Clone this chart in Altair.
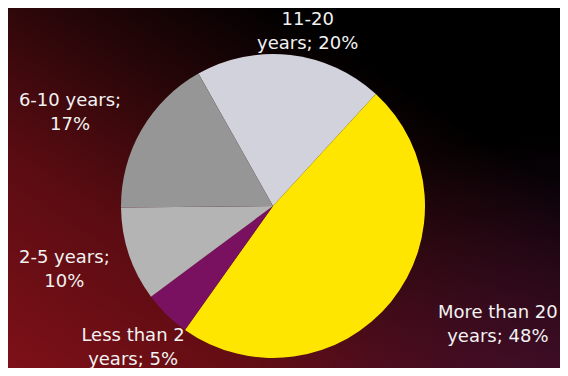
import altair as alt
import pandas as pd
import math

# ---- data ----
categories = ["11-20 years", "More than 20 years", "Less than 2 years", "2-5 years", "6-10 years"]
values = [20, 48, 5, 10, 17]
labels = ["11-20\nyears; 20%", "More than 20\nyears; 48%", "Less than 2\nyears; 5%",
          "2-5 years;\n10%", "6-10 years;\n17%"]

# ---- styles ----
colors = ["#D2D2DC", "#FFE600", "#7A1060", "#B4B4B4", "#969696"]
W, H = 552, 360
CX, CY, R = 265, 198, 152
start = math.radians(-29.4)
# per-label placement (radius, dx, dy)
label_pos = [(180, 14, -7), (252, 29, -52), (200, 0, -13), (217, -3, -17), (224, -9, 7)]

df = pd.DataFrame({"idx": list(range(len(categories))), "cat": categories,
                   "value": values, "label": labels})

theta_scale = alt.Scale(domain=[0, 100], range=[start, start + 2 * math.pi])

base = alt.Chart(df).transform_stack(
    stack="value", groupby=[], as_=["v0", "v1"], sort=[alt.SortField("idx", order="ascending")]
).transform_calculate(mid="(datum.v0 + datum.v1) / 2")

bg_df = pd.DataFrame({"a": [0]})
bg = alt.Chart(bg_df).mark_rect(
    color={"gradient": "linear", "x1": 0, "y1": 1, "x2": 1, "y2": 0,
           "stops": [{"offset": 0, "color": "#7E1018"},
                     {"offset": 0.3, "color": "#5A0C12"},
                     {"offset": 0.55, "color": "#250608"},
                     {"offset": 0.75, "color": "#000000"},
                     {"offset": 1, "color": "#000000"}]}
).encode(x=alt.value(0), x2=alt.value(W), y=alt.value(0), y2=alt.value(H))

bg2 = alt.Chart(bg_df).mark_rect(
    color={"gradient": "radial", "x1": 1, "y1": 1, "r1": 0, "x2": 1, "y2": 1, "r2": 0.6,
           "stops": [{"offset": 0, "color": "rgba(70,16,55,0.85)"},
                     {"offset": 1, "color": "rgba(70,16,55,0)"}]}
).encode(x=alt.value(0), x2=alt.value(W), y=alt.value(0), y2=alt.value(H))

pie = base.mark_arc(outerRadius=R).encode(
    theta=alt.Theta("v0:Q", scale=theta_scale),
    theta2="v1:Q",
    color=alt.Color("cat:N", scale=alt.Scale(domain=categories, range=colors), legend=None),
    x=alt.value(CX), y=alt.value(CY),
)

texts = []
for i, (r, dx, dy) in enumerate(label_pos):
    t = base.transform_filter(alt.datum.idx == i).mark_text(
        radius=r, dx=dx, dy=dy, lineBreak="\n", font="DejaVu Sans", fontSize=18,
        lineHeight=24, color="#F2F2F2", align="center", baseline="middle"
    ).encode(
        theta=alt.Theta("mid:Q", scale=theta_scale),
        text="label:N",
        x=alt.value(CX), y=alt.value(CY),
    )
    texts.append(t)

chart = alt.layer(bg, bg2, pie, *texts).properties(
    width=W, height=H, padding=0, autosize="none", background="#000000"
).configure_view(stroke=None)

chart.save("out.html", embed_options={"renderer": "svg", "actions": False})
